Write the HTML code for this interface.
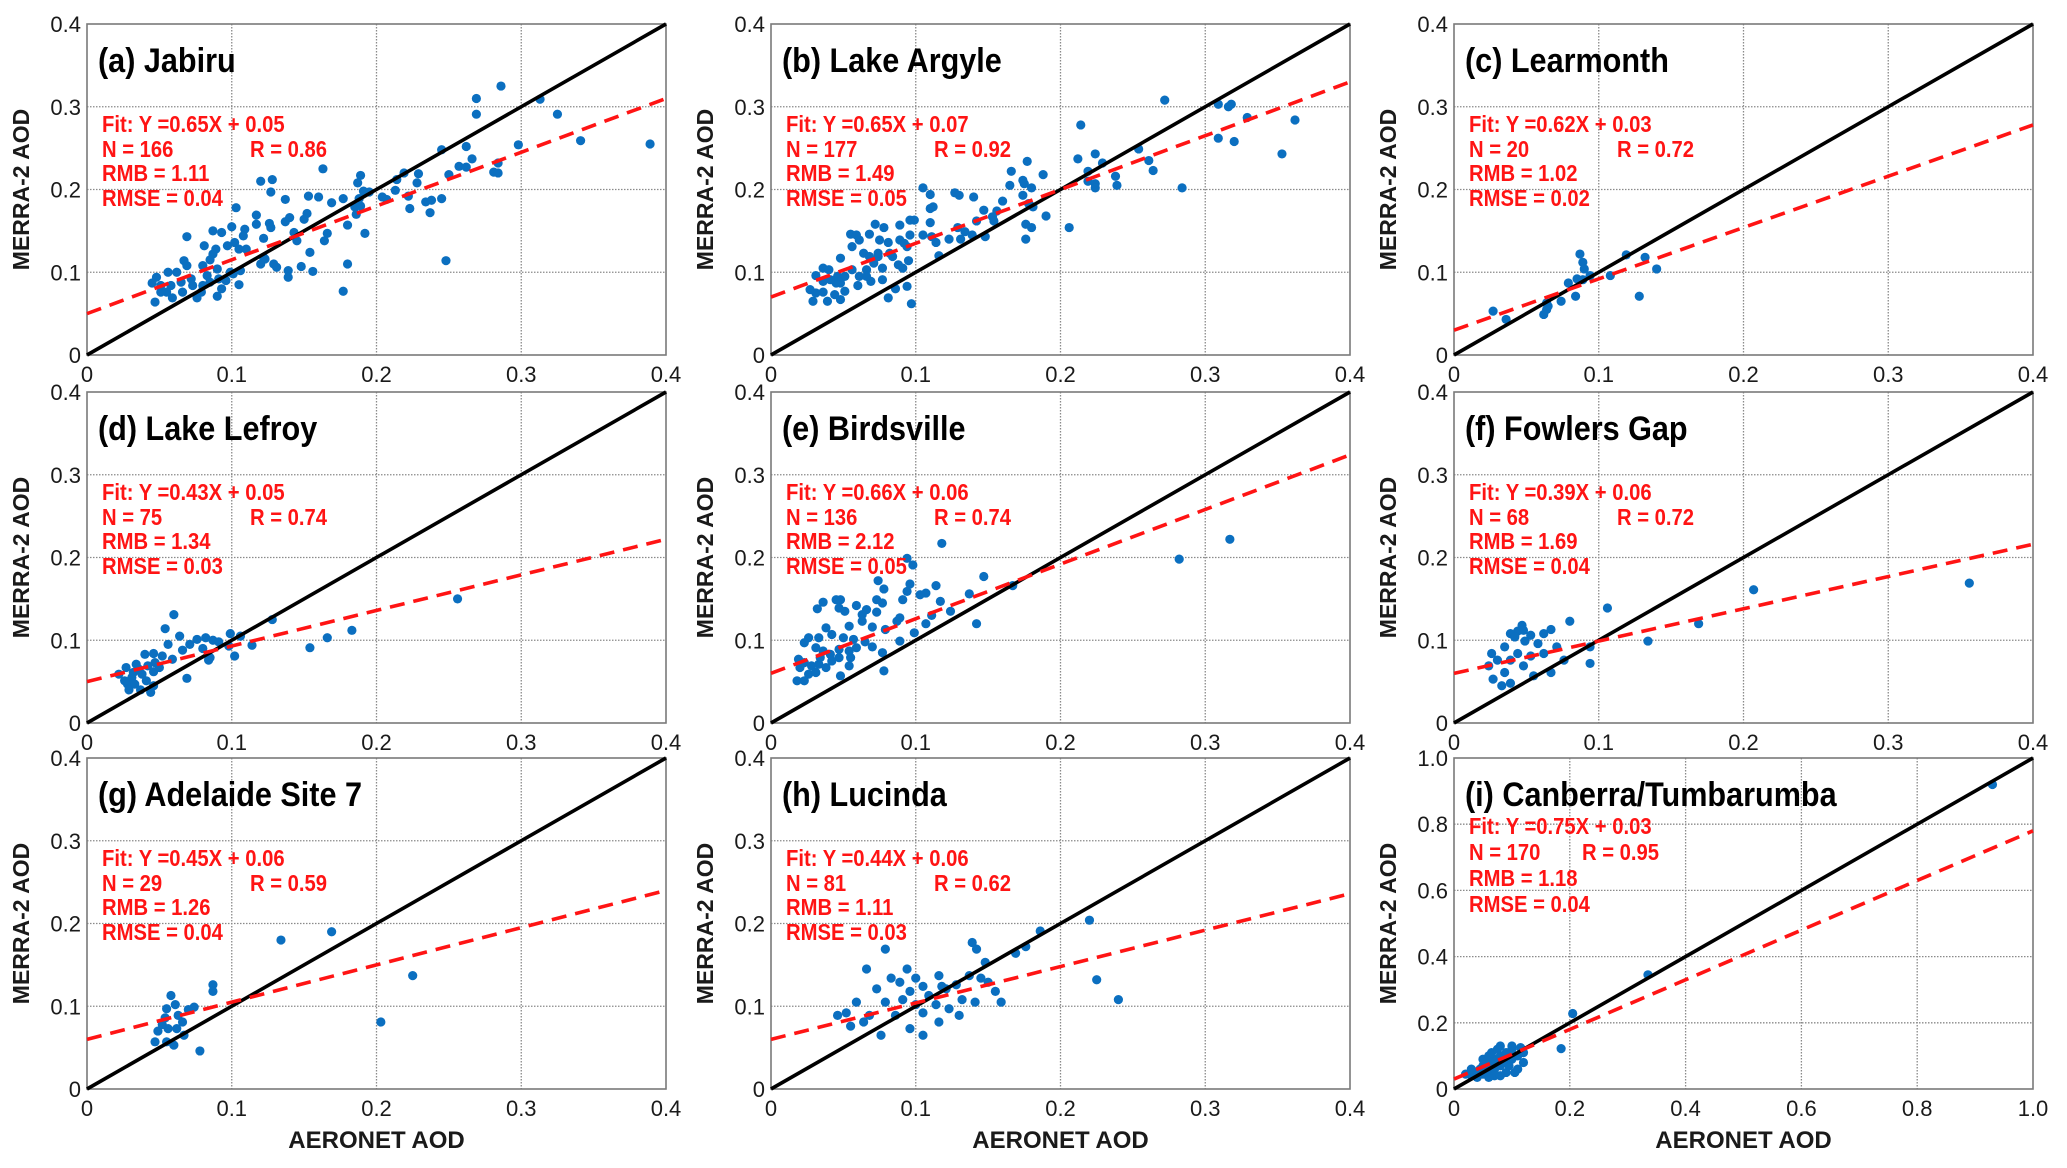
<!DOCTYPE html>
<html><head><meta charset="utf-8">
<style>
html,body{margin:0;padding:0;background:#fff;}
svg{display:block;font-family:"Liberation Sans",Arial,sans-serif;}
</style></head>
<body>
<svg id="fig" width="2067" height="1168" viewBox="0 0 2067 1168" xmlns="http://www.w3.org/2000/svg"></svg>
<script>
// ---- data (AERONET AOD x, MERRA-2 AOD y) ----
const jabiruX=[0.286,0.269,0.269,0.313,0.325,0.341,0.389,0.298,0.245,0.262,0.266,0.257,0.262,0.250,0.284,0.281,0.284,0.229,0.228,0.219,0.214,0.213,0.222,0.223,0.234,0.238,0.245,0.237,0.248,0.204,0.207,0.189,0.187,0.191,0.195,0.188,0.185,0.189,0.186,0.192,0.180,0.180,0.177,0.177,0.169,0.163,0.160,0.153,0.166,0.164,0.152,0.150,0.154,0.156,0.148,0.145,0.143,0.140,0.137,0.137,0.139,0.139,0.128,0.120,0.127,0.126,0.127,0.122,0.122,0.123,0.120,0.129,0.131,0.117,0.117,0.109,0.108,0.110,0.102,0.103,0.100,0.097,0.105,0.106,0.105,0.101,0.093,0.087,0.089,0.087,0.090,0.091,0.093,0.090,0.085,0.081,0.080,0.080,0.079,0.076,0.073,0.072,0.069,0.067,0.069,0.066,0.065,0.062,0.059,0.058,0.055,0.051,0.048,0.045,0.047,0.056,0.051,0.083,0.085,0.099,0.096];
const jabiruY=[0.325,0.310,0.291,0.309,0.291,0.259,0.255,0.254,0.248,0.252,0.237,0.228,0.227,0.218,0.232,0.221,0.220,0.219,0.208,0.220,0.212,0.199,0.192,0.177,0.185,0.187,0.189,0.172,0.114,0.191,0.188,0.217,0.208,0.198,0.197,0.189,0.179,0.180,0.170,0.147,0.157,0.110,0.077,0.189,0.184,0.225,0.191,0.192,0.147,0.138,0.171,0.164,0.124,0.101,0.107,0.138,0.148,0.166,0.161,0.188,0.102,0.094,0.212,0.210,0.197,0.159,0.154,0.141,0.118,0.116,0.110,0.110,0.106,0.169,0.158,0.152,0.144,0.128,0.136,0.178,0.155,0.132,0.128,0.102,0.085,0.098,0.148,0.150,0.128,0.122,0.104,0.092,0.080,0.071,0.115,0.132,0.108,0.084,0.076,0.069,0.084,0.092,0.108,0.114,0.143,0.076,0.088,0.100,0.069,0.084,0.076,0.076,0.094,0.087,0.064,0.100,0.084,0.096,0.088,0.100,0.090];
const argyleX=[0.272,0.309,0.318,0.316,0.329,0.362,0.309,0.320,0.353,0.214,0.254,0.261,0.264,0.284,0.224,0.212,0.219,0.229,0.238,0.239,0.219,0.224,0.224,0.206,0.177,0.166,0.188,0.165,0.174,0.175,0.180,0.174,0.178,0.181,0.190,0.176,0.180,0.176,0.160,0.156,0.147,0.153,0.154,0.140,0.127,0.130,0.142,0.148,0.139,0.134,0.129,0.131,0.123,0.116,0.114,0.111,0.105,0.110,0.112,0.110,0.110,0.105,0.099,0.096,0.089,0.096,0.092,0.095,0.094,0.097,0.086,0.081,0.078,0.081,0.072,0.068,0.075,0.074,0.077,0.084,0.088,0.091,0.061,0.055,0.059,0.056,0.064,0.068,0.071,0.066,0.061,0.056,0.051,0.048,0.048,0.045,0.051,0.048,0.044,0.036,0.040,0.031,0.036,0.027,0.031,0.029,0.036,0.039,0.060,0.069,0.077,0.082,0.089,0.094,0.074,0.046,0.041,0.066];
const argyleY=[0.308,0.303,0.303,0.300,0.287,0.284,0.262,0.258,0.243,0.278,0.249,0.235,0.223,0.202,0.243,0.237,0.222,0.232,0.216,0.205,0.210,0.207,0.202,0.154,0.234,0.222,0.218,0.205,0.211,0.207,0.202,0.193,0.183,0.179,0.168,0.158,0.154,0.140,0.186,0.174,0.175,0.167,0.162,0.191,0.196,0.193,0.162,0.143,0.145,0.149,0.154,0.140,0.140,0.120,0.136,0.143,0.145,0.160,0.179,0.177,0.194,0.202,0.163,0.163,0.157,0.145,0.135,0.114,0.083,0.062,0.080,0.069,0.154,0.136,0.158,0.146,0.139,0.119,0.091,0.119,0.109,0.105,0.139,0.146,0.145,0.131,0.123,0.119,0.111,0.103,0.095,0.103,0.095,0.117,0.087,0.087,0.077,0.067,0.073,0.105,0.103,0.096,0.089,0.079,0.075,0.065,0.076,0.065,0.084,0.089,0.105,0.123,0.139,0.131,0.123,0.095,0.091,0.095];
const learmonthX=[0.087,0.089,0.090,0.119,0.132,0.140,0.108,0.094,0.085,0.089,0.079,0.084,0.128,0.074,0.064,0.064,0.062,0.027,0.036,0.065];
const learmonthY=[0.122,0.112,0.104,0.121,0.118,0.104,0.096,0.096,0.092,0.091,0.087,0.071,0.071,0.065,0.063,0.055,0.049,0.053,0.043,0.059];
const lefroyX=[0.256,0.060,0.054,0.064,0.128,0.183,0.166,0.154,0.114,0.099,0.106,0.102,0.098,0.082,0.076,0.071,0.066,0.087,0.091,0.080,0.085,0.084,0.069,0.056,0.052,0.059,0.046,0.040,0.047,0.042,0.034,0.027,0.022,0.046,0.038,0.031,0.028,0.033,0.041,0.046,0.044,0.029,0.037,0.050,0.032,0.026,0.036];
const lefroyY=[0.150,0.131,0.114,0.105,0.125,0.112,0.103,0.091,0.094,0.108,0.105,0.081,0.093,0.103,0.101,0.095,0.088,0.100,0.098,0.090,0.079,0.076,0.054,0.095,0.081,0.077,0.084,0.083,0.073,0.069,0.071,0.067,0.059,0.062,0.059,0.055,0.047,0.047,0.051,0.045,0.037,0.040,0.040,0.067,0.061,0.051,0.065];
const birdsvilleX=[0.118,0.317,0.282,0.094,0.098,0.074,0.078,0.096,0.094,0.114,0.107,0.103,0.147,0.167,0.137,0.091,0.117,0.124,0.111,0.107,0.142,0.099,0.089,0.078,0.077,0.070,0.065,0.073,0.077,0.073,0.079,0.087,0.089,0.070,0.063,0.059,0.066,0.063,0.054,0.048,0.045,0.047,0.051,0.036,0.032,0.038,0.042,0.050,0.057,0.033,0.026,0.023,0.031,0.036,0.041,0.047,0.054,0.059,0.055,0.047,0.019,0.023,0.028,0.033,0.038,0.020,0.026,0.018,0.023,0.031,0.048,0.054,0.042,0.034];
const birdsvilleY=[0.217,0.222,0.198,0.199,0.191,0.172,0.162,0.168,0.159,0.166,0.157,0.155,0.177,0.166,0.156,0.149,0.147,0.135,0.130,0.120,0.120,0.109,0.099,0.063,0.085,0.092,0.098,0.149,0.145,0.134,0.113,0.123,0.127,0.116,0.123,0.142,0.137,0.131,0.117,0.149,0.149,0.139,0.135,0.146,0.138,0.115,0.107,0.103,0.101,0.103,0.103,0.097,0.091,0.087,0.083,0.089,0.087,0.091,0.079,0.079,0.077,0.073,0.069,0.071,0.067,0.067,0.059,0.051,0.051,0.061,0.057,0.069,0.075,0.079];
const fowlersX=[0.356,0.207,0.169,0.134,0.106,0.094,0.094,0.080,0.067,0.047,0.044,0.053,0.048,0.039,0.058,0.035,0.044,0.030,0.024,0.035,0.027,0.039,0.048,0.053,0.062,0.067,0.055,0.033,0.042,0.049,0.039,0.026,0.062,0.071,0.076];
const fowlersY=[0.169,0.161,0.120,0.099,0.139,0.092,0.072,0.123,0.113,0.118,0.111,0.106,0.112,0.108,0.096,0.092,0.084,0.076,0.069,0.061,0.053,0.048,0.069,0.081,0.084,0.061,0.057,0.045,0.104,0.099,0.076,0.084,0.108,0.092,0.076];
const adelaideX=[0.134,0.169,0.225,0.203,0.078,0.087,0.087,0.058,0.061,0.070,0.074,0.054,0.063,0.056,0.049,0.055,0.060,0.047,0.066,0.055,0.067,0.052,0.062];
const adelaideY=[0.180,0.190,0.137,0.081,0.046,0.126,0.118,0.113,0.102,0.096,0.099,0.086,0.089,0.073,0.070,0.057,0.053,0.057,0.081,0.097,0.065,0.078,0.073];
const lucindaX=[0.220,0.225,0.240,0.186,0.176,0.169,0.139,0.142,0.148,0.159,0.155,0.145,0.128,0.116,0.121,0.105,0.096,0.089,0.079,0.066,0.059,0.052,0.046,0.068,0.079,0.086,0.096,0.105,0.114,0.123,0.132,0.109,0.100,0.091,0.073,0.064,0.076,0.055,0.105,0.116,0.130,0.141,0.150,0.137,0.094,0.083,0.100,0.118];
const lucindaY=[0.204,0.132,0.108,0.191,0.172,0.164,0.177,0.169,0.153,0.105,0.118,0.134,0.126,0.137,0.121,0.124,0.118,0.129,0.169,0.145,0.105,0.092,0.089,0.089,0.105,0.089,0.073,0.092,0.102,0.097,0.108,0.113,0.102,0.108,0.121,0.081,0.065,0.076,0.065,0.081,0.089,0.105,0.129,0.137,0.145,0.134,0.134,0.124];
const canberraX=[0.93,0.335,0.205,0.185,0.02,0.03,0.04,0.05,0.05,0.06,0.06,0.07,0.07,0.07,0.08,0.08,0.08,0.09,0.09,0.09,0.10,0.10,0.10,0.11,0.11,0.12,0.12,0.05,0.06,0.065,0.075,0.085,0.095,0.105,0.04,0.06,0.08,0.03,0.045,0.055,0.065,0.075,0.085,0.10,0.115];
const canberraY=[0.92,0.345,0.228,0.122,0.045,0.04,0.05,0.045,0.07,0.08,0.05,0.09,0.06,0.04,0.10,0.07,0.13,0.11,0.08,0.05,0.12,0.09,0.13,0.10,0.06,0.08,0.11,0.09,0.10,0.11,0.12,0.09,0.07,0.05,0.035,0.035,0.04,0.06,0.06,0.055,0.065,0.075,0.085,0.10,0.125];

const panelTitles=["(a) Jabiru","(b) Lake Argyle","(c) Learmonth","(d) Lake Lefroy","(e) Birdsville","(f) Fowlers Gap","(g) Adelaide Site 7","(h) Lucinda","(i) Canberra/Tumbarumba"];
const fitSlopes=[0.65,0.65,0.62,0.43,0.66,0.39,0.45,0.44,0.75];
const fitIntercepts=[0.05,0.07,0.03,0.05,0.06,0.06,0.06,0.06,0.03];
const fitLabels=["0.65X + 0.05","0.65X + 0.07","0.62X + 0.03","0.43X + 0.05","0.66X + 0.06","0.39X + 0.06","0.45X + 0.06","0.44X + 0.06","0.75X + 0.03"];
const nLabels=["166","177","20","75","136","68","29","81","170"];
const rLabels=["0.86","0.92","0.72","0.74","0.74","0.72","0.59","0.62","0.95"];
const rmbLabels=["1.11","1.49","1.02","1.34","2.12","1.69","1.26","1.11","1.18"];
const rmseLabels=["0.04","0.05","0.02","0.03","0.05","0.04","0.04","0.03","0.04"];
const smallTicks=["0","0.1","0.2","0.3","0.4"];
const bigTicks=["0","0.2","0.4","0.6","0.8","1.0"];
const seriesX=[jabiruX,argyleX,learmonthX,lefroyX,birdsvilleX,fowlersX,adelaideX,lucindaX,canberraX];
const seriesY=[jabiruY,argyleY,learmonthY,lefroyY,birdsvilleY,fowlersY,adelaideY,lucindaY,canberraY];

// ---- layout ----
const NS="http://www.w3.org/2000/svg";
const svg=document.getElementById("fig");
const colLeft=[87,771,1454], rowTop=[24,392,758], PW=579, PH=331;
function mk(tag,attrs,parent){const e=document.createElementNS(NS,tag);for(const k in attrs)e.setAttribute(k,attrs[k]);(parent||svg).appendChild(e);return e;}

for(let p=0;p<9;p++){
  const L=colLeft[p%3], T=rowTop[Math.floor(p/3)];
  const isBig=(p===8);
  const maxV=isBig?1.0:0.4;
  const ticks=isBig?bigTicks:smallTicks;
  const sx=v=>L+v/maxV*PW;
  const sy=v=>T+PH-v/maxV*PH;
  const g=mk("g",{});
  
  
  ticks.forEach((t,i)=>{
    const v=parseFloat(t);
    if(i>0&&i<ticks.length-1){
      const gx=mk("line",{x1:sx(v),x2:sx(v),y1:T,y2:T+PH,stroke:"#8a8a8a","stroke-width":1.3,"stroke-dasharray":"1.5,1.5"},g);
      
      
      const gy=mk("line",{x1:L,x2:L+PW,y1:sy(v),y2:sy(v),stroke:"#8a8a8a","stroke-width":1.3,"stroke-dasharray":"1.5,1.5"},g);
      
      
    }
    const yt=mk("text",{x:L-6,y:sy(v)+8,"text-anchor":"end","font-size":22,fill:"#1a1a1a"},g);
    yt.textContent=t;
    
    
    const xt=mk("text",{x:sx(v),y:T+PH+27,"text-anchor":"middle","font-size":22,fill:"#1a1a1a"},g);
    xt.textContent=t;
    
    
  });
  const fr=mk("rect",{x:L,y:T,width:PW,height:PH,fill:"none",stroke:"#7a7a7a","stroke-width":1.6},g);
  
  
  const xs=seriesX[p], ys=seriesY[p];
  for(let i=0;i<xs.length;i++){
    const c=mk("circle",{cx:sx(xs[i]),cy:sy(ys[i]),r:4.6,fill:"#0b6fc0"},g);
    
    
  }
  const one=mk("line",{x1:sx(0),y1:sy(0),x2:sx(maxV),y2:sy(maxV),stroke:"#000","stroke-width":3.6},g);
  
  
  const fit=mk("line",{x1:sx(0),y1:sy(fitIntercepts[p]),x2:sx(maxV),y2:sy(fitSlopes[p]*maxV+fitIntercepts[p]),stroke:"#ff1414","stroke-width":3.6,"stroke-dasharray":"15,9"},g);
  
  
  const tg=mk("g",{transform:`translate(${L+11},${T+48}) scale(0.9,1)`},g);
  const title=mk("text",{x:0,y:0,"font-size":34,"font-weight":"bold",fill:"#000"},tg);
  title.textContent=panelTitles[p];
  
  
  const base=isBig?[76,102,128,154]:[108,133,157,182];
  const sLines=["Fit: Y ="+fitLabels[p],"N = "+nLabels[p],"RMB = "+rmbLabels[p],"RMSE = "+rmseLabels[p]];
  sLines.forEach((s,i)=>{
    const sg=mk("g",{transform:`translate(${L+15},${T+base[i]}) scale(0.88,1)`},g);
    const st=mk("text",{x:0,y:0,"font-size":23,"font-weight":"bold",fill:"#ff1414"},sg);
    st.textContent=s;
    
    
  });
  const rg=mk("g",{transform:`translate(${L+(isBig?128:163)},${T+base[1]}) scale(0.88,1)`},g);
  const rt=mk("text",{x:0,y:0,"font-size":23,"font-weight":"bold",fill:"#ff1414"},rg);
  rt.textContent="R  = "+rLabels[p];
  
  
  const yl=mk("text",{transform:`translate(${L-58},${T+PH/2}) rotate(-90)`,"text-anchor":"middle","font-size":23,"font-weight":"bold",fill:"#1a1a1a"},g);
  yl.textContent="MERRA-2 AOD";
  
  
  if(p>=6){
    const xl=mk("text",{transform:`translate(${L+PW/2},${T+PH+59})`,"text-anchor":"middle","font-size":24,"font-weight":"bold",fill:"#1a1a1a"},g);
    xl.textContent="AERONET AOD";
    
    
  }
}
</script>
</body></html>
